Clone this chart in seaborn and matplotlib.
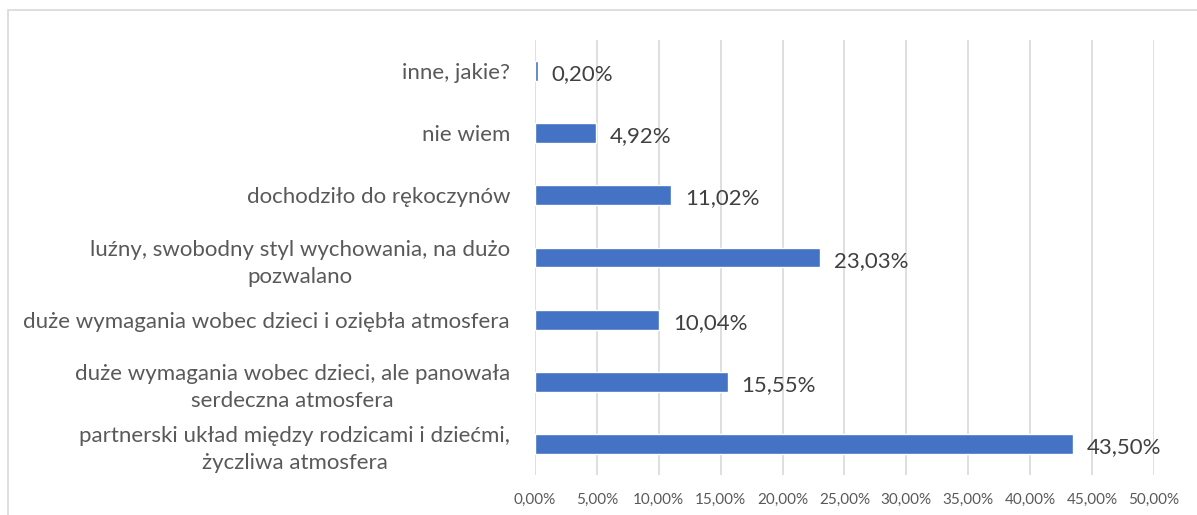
import matplotlib
matplotlib.use("Agg")
import matplotlib.pyplot as plt
import matplotlib.patches as patches
import pandas as pd
import seaborn as sns

categories = [
    "inne, jakie?",
    "nie wiem",
    "dochodziło do rękoczynów",
    "luźny, swobodny styl wychowania, na dużo\npozwalano",
    "duże wymagania wobec dzieci i oziębła atmosfera",
    "duże wymagania wobec dzieci, ale panowała\nserdeczna atmosfera",
    "partnerski układ między rodzicami i dziećmi,\nżyczliwa atmosfera",
]
values = [0.20, 4.92, 11.02, 23.03, 10.04, 15.55, 43.50]
x_ticks = [0, 5, 10, 15, 20, 25, 30, 35, 40, 45, 50]

df = pd.DataFrame({"kategoria": categories, "procent": values})

sns.set_theme(style="white")
plt.rcParams["font.family"] = ["Lato", "DejaVu Sans"]

fig = plt.figure(figsize=(11.97, 5.15), dpi=100)
ax = fig.add_axes([0.447, 0.078, 0.517, 0.844])

sns.barplot(data=df, x="procent", y="kategoria", color="#4472C4",
            width=0.32, saturation=1, orient="h", ax=ax)

ax.set_xlim(0, 50)
ax.set_ylim(6.5, -0.5)
ax.set_xticks(x_ticks)
ax.set_xticklabels([f"{t:.2f}%".replace(".", ",") for t in x_ticks],
                   fontsize=11, color="#595959")
ax.set_yticks(range(len(categories)))
ax.set_yticklabels(categories, fontsize=16, color="#595959",
                   multialignment="center", linespacing=1.45)
ax.tick_params(axis="y", length=0, pad=18)
ax.tick_params(axis="x", length=0, pad=13)
ax.set_xlabel("")
ax.set_ylabel("")
ax.xaxis.grid(True, color="#D9D9D9", linewidth=1.2)
ax.set_axisbelow(True)
for s in ax.spines.values():
    s.set_visible(False)

for i, v in enumerate(values):
    ax.text(v + 1.1, i + 0.05, f"{v:.2f}%".replace(".", ","),
            va="center", ha="left", fontsize=16, color="#404040")

fig.patches.append(patches.Rectangle((8 / 1197, -0.05), 1.2, 1 - 10 / 515 + 0.05,
                                     transform=fig.transFigure, fill=False,
                                     edgecolor="#D9D9D9", linewidth=1.2))

fig.savefig("out.png", dpi=100)
